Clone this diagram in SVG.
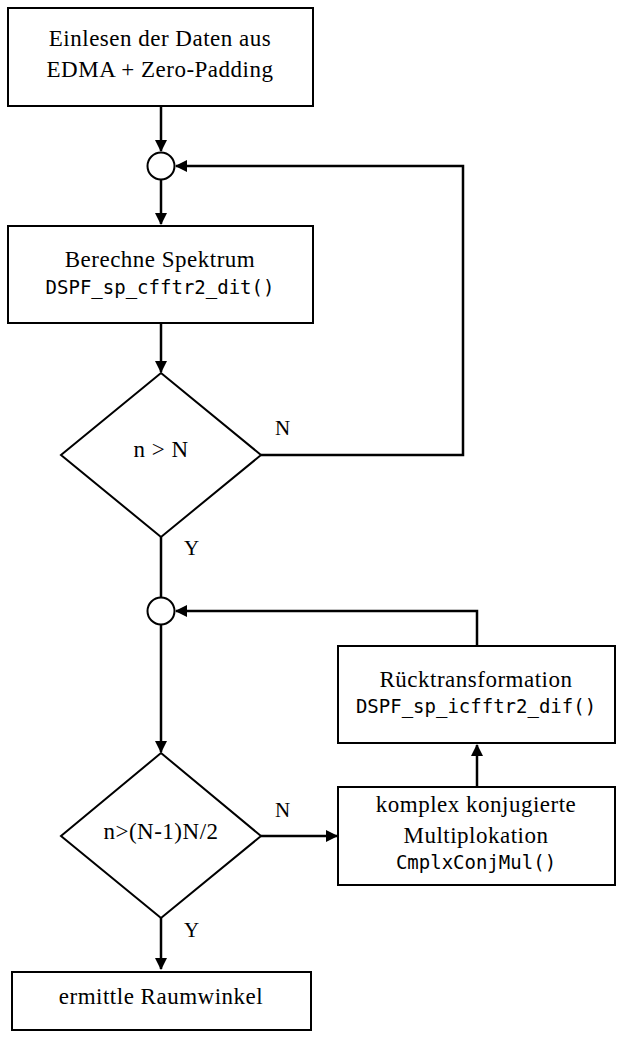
<svg xmlns="http://www.w3.org/2000/svg" width="623" height="1037" viewBox="0 0 623 1037">
<defs>
<marker id="ah" markerWidth="12" markerHeight="12" refX="11" refY="6" orient="auto" markerUnits="userSpaceOnUse">
<path d="M0,0 L12,6 L0,12 Z" fill="#000"/>
</marker>
<style>
.b{fill:#fff;stroke:#000;stroke-width:2}
.t{font-family:"Liberation Serif",serif;font-size:23px;letter-spacing:0.5px;fill:#000;text-anchor:middle}
.m{font-family:"DejaVu Sans Mono",monospace;font-size:19px;fill:#000;text-anchor:middle}
.c{fill:none;stroke:#000;stroke-width:2.5}
.l{font-family:"Liberation Serif",serif;font-size:21px;fill:#000}
</style>
</defs>
<rect width="623" height="1037" fill="#fff"/>
<g id="connectors">
<line class="c" x1="161" y1="106" x2="161" y2="151" marker-end="url(#ah)"/>
<line class="c" x1="161" y1="180" x2="161" y2="224" marker-end="url(#ah)"/>
<line class="c" x1="161" y1="323" x2="161" y2="372" marker-end="url(#ah)"/>
<polyline class="c" points="261,455 463,455 463,166 176,166" marker-end="url(#ah)"/>
<line class="c" x1="161" y1="537" x2="161" y2="598"/>
<line class="c" x1="161" y1="625" x2="161" y2="752" marker-end="url(#ah)"/>
<line class="c" x1="261" y1="836" x2="337" y2="836" marker-end="url(#ah)"/>
<line class="c" x1="477" y1="787" x2="477" y2="745" marker-end="url(#ah)"/>
<polyline class="c" points="477,646 477,611 176,611" marker-end="url(#ah)"/>
<line class="c" x1="161" y1="918" x2="161" y2="969" marker-end="url(#ah)"/>
<text class="l" x="275" y="435">N</text>
<text class="l" x="184" y="555">Y</text>
<text class="l" x="275" y="817">N</text>
<text class="l" x="184" y="937">Y</text>
</g>
<g id="n1"><rect class="b" x="8" y="8" width="305" height="98"/>
<text class="t" x="160" y="46">Einlesen der Daten aus</text>
<text class="t" x="160" y="77">EDMA + Zero-Padding</text></g>
<g id="j1"><circle class="b" cx="161" cy="166" r="13.5"/></g>
<g id="n2"><rect class="b" x="8" y="226" width="305" height="97"/>
<text class="t" x="160" y="267">Berechne Spektrum</text>
<text class="m" x="160" y="294">DSPF_sp_cfftr2_dit()</text></g>
<g id="d1"><polygon class="b" points="161,373 261,455 161,537 61,455"/>
<text class="t" x="161" y="457">n &gt; N</text></g>
<g id="j2"><circle class="b" cx="161" cy="611" r="13.5"/></g>
<g id="d2"><polygon class="b" points="161,753 261,836 161,918 61,836"/>
<text class="t" x="161" y="839">n&gt;(N-1)N/2</text></g>
<g id="n3"><rect class="b" x="338" y="787" width="277" height="98"/>
<text class="t" x="476" y="812">komplex konjugierte</text>
<text class="t" x="476" y="843">Multiplokation</text>
<text class="m" x="476" y="869">CmplxConjMul()</text></g>
<g id="n4"><rect class="b" x="338" y="646" width="277" height="97"/>
<text class="t" x="476" y="687">Rücktransformation</text>
<text class="m" x="476" y="713">DSPF_sp_icfftr2_dif()</text></g>
<g id="n5"><rect class="b" x="12" y="972" width="299" height="58"/>
<text class="t" x="161" y="1004">ermittle Raumwinkel</text></g>
</svg>
